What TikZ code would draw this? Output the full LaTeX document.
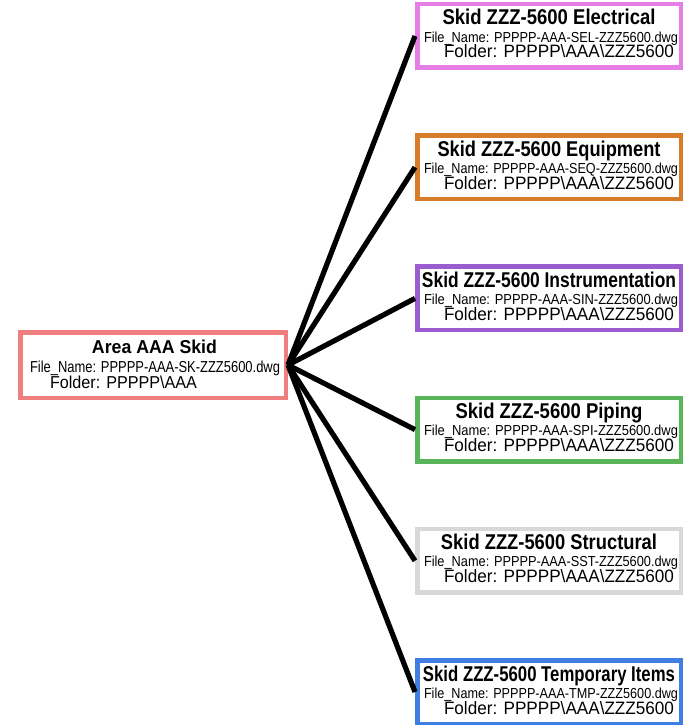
\documentclass[tikz,border=0pt]{standalone}
\usepackage{fontspec}
\setmainfont{Liberation Sans}
\usepackage{graphicx}
\definecolor{cRoot}{HTML}{EF7E7E}
\definecolor{cElec}{HTML}{E57FE5}
\definecolor{cEquip}{HTML}{D77D2A}
\definecolor{cInstr}{HTML}{9B5BD1}
\definecolor{cPipe}{HTML}{5AB55A}
\definecolor{cStruct}{HTML}{D8D8D8}
\definecolor{cTemp}{HTML}{3F7FE3}
\newcommand{\fitT}[3]{\resizebox{#1pt}{#2pt}{\bfseries #3}}
\newcommand{\fitR}[3]{\resizebox{#1pt}{#2pt}{#3}}
\tikzset{
  boxframe/.style={draw=#1, line width=4.5pt, inner sep=0pt, fill=white},
  conn/.style={draw=black, line width=5.2pt},
  txt/.style={inner sep=0pt, outer sep=0pt}
}
\begin{document}
\begin{tikzpicture}[x=1pt,y=-1pt]
\useasboundingbox (0,0) rectangle (688,725);
% root box
\node[boxframe=cRoot, minimum width=265.5pt, minimum height=65.5pt] (root) at (153,365) {};
\node[txt, anchor=base] (root-t) at (154.5,353) {\fitT{125}{13.5}{Area AAA Skid}};
\node[txt, anchor=base west] (root-f) at (30,372) {\fitR{250}{11.5}{File\_Name: PPPPP-AAA-SK-ZZZ5600.dwg}};
\node[txt, anchor=base west] (root-d) at (50,388.5) {\fitR{147}{12.5}{Folder: PPPPP\textbackslash AAA}};
% child boxes
\foreach \n/\T/\col/\ttl/\tw/\code in {
  elec/2/cElec/Electrical/213/SEL,
  equip/133.2/cEquip/Equipment/223/SEQ,
  instr/264.4/cInstr/Instrumentation/254/SIN,
  piping/395.6/cPipe/Piping/187/SPI,
  struct/526.8/cStruct/Structural/216/SST,
  temp/658/cTemp/Temporary Items/252/TMP}
{
  \node[boxframe=\col, minimum width=263.5pt, minimum height=63.5pt] (\n) at (549,{\T+34}) {};
  \node[txt, anchor=base] (\n-t) at (549,{\T+23}) {\fitT{\tw}{15.5}{Skid ZZZ-5600 \ttl}};
  \node[txt, anchor=base west] (\n-f) at (424,{\T+40}) {\fitR{254}{10.5}{File\_Name: PPPPP-AAA-\code-ZZZ5600.dwg}};
  \node[txt, anchor=base west] (\n-d) at (444,{\T+56}) {\fitR{230}{13}{Folder: PPPPP\textbackslash AAA\textbackslash ZZZ5600}};
}
% connectors
\foreach \n in {elec,equip,instr,piping,struct,temp}
  \draw[conn] (root.east) -- (\n.west);
\end{tikzpicture}
\end{document}
